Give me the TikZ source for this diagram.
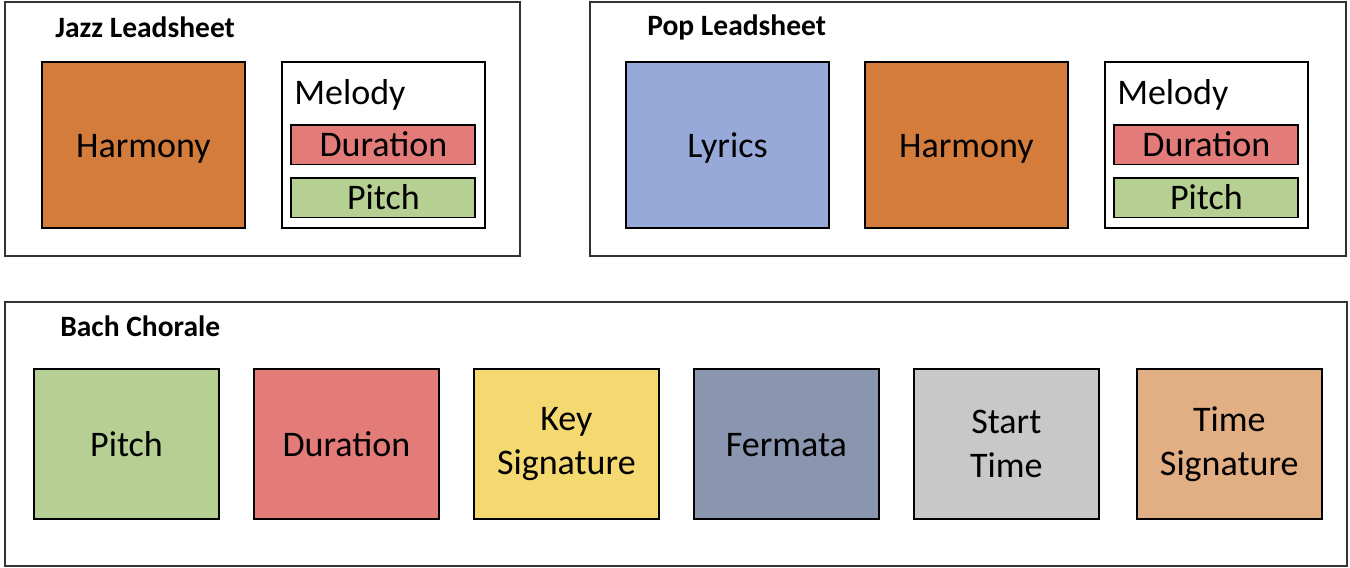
\documentclass[tikz,border=0pt]{standalone}
\usepackage{fontspec}
\setmainfont{Carlito}
\usetikzlibrary{positioning}
\definecolor{harmonyc}{HTML}{D47C3B}
\definecolor{lyricsc}{HTML}{96A9D8}
\definecolor{durationc}{HTML}{E37C78}
\definecolor{pitchc}{HTML}{B5D092}
\definecolor{keysigc}{HTML}{F4D870}
\definecolor{fermatac}{HTML}{8A96AF}
\definecolor{startc}{HTML}{C8C8C8}
\definecolor{timesigc}{HTML}{E2AE83}
\def\boxstrut{\rule{0pt}{0.86em}\rule[-0.18em]{0pt}{0pt}}
\def\topstrut{\rule{0pt}{1.0em}}
\tikzset{
  frame/.style={draw=black!80, line width=0.9pt, rectangle, inner sep=0pt, outer sep=0pt},
  heading/.style={font=\bfseries\fontsize{16.8}{20}\selectfont, inner sep=0pt, anchor=west},
  txt/.style={font=\fontsize{20.5}{25}\selectfont, inner sep=0pt},
  part/.style={draw=black, line width=1.1pt, rectangle, align=center, inner sep=0pt, outer sep=0pt,
    font=\fontsize{20.5}{25}\selectfont},
  oneline/.style={execute at begin node=\boxstrut},
  twoline/.style={execute at begin node=\topstrut},
  bigpart/.style={part, oneline, minimum width=4.06cm, minimum height=3.32cm},
  bachpart/.style={part, minimum width=3.7cm, minimum height=3cm},
  subpart/.style={part, oneline, minimum width=3.68cm, minimum height=0.79cm}
}
\begin{document}
\begin{tikzpicture}[x=0.02cm, y=-0.02cm]
  \useasboundingbox (0,0) rectangle (1350,568);

  % jazz leadsheet
  \node[frame, minimum width=10.3cm, minimum height=5.08cm, anchor=north west] (jazz) at (5,2) {};
  \node[heading] (jazztitle) at (55,27) {Jazz Leadsheet};
  \node[bigpart, fill=harmonyc, anchor=north west] (jharm) at (42,62) {Harmony};
  \node[bigpart, right=0.74cm of jharm] (jmel) {};
  \node[txt, anchor=west] (jmellab) at ([xshift=0.24cm, yshift=-0.66cm]jmel.north west) {Melody};
  \node[subpart, fill=durationc, below=1.26cm of jmel.north] (jdur) {Duration};
  \node[subpart, fill=pitchc, below=0.27cm of jdur] (jpitch) {Pitch};

  % pop leadsheet
  \node[frame, minimum width=15.12cm, minimum height=5.08cm, anchor=north west] (pop) at (590,2) {};
  \node[heading] (poptitle) at (647,27) {Pop Leadsheet};
  \node[bigpart, fill=lyricsc, anchor=north west] (plyr) at (626,62) {Lyrics};
  \node[bigpart, fill=harmonyc, right=0.72cm of plyr] (pharm) {Harmony};
  \node[bigpart, right=0.74cm of pharm] (pmel) {};
  \node[txt, anchor=west] (pmellab) at ([xshift=0.24cm, yshift=-0.66cm]pmel.north west) {Melody};
  \node[subpart, fill=durationc, below=1.26cm of pmel.north] (pdur) {Duration};
  \node[subpart, fill=pitchc, below=0.27cm of pdur] (ppitch) {Pitch};

  % bach chorale
  \node[frame, minimum width=26.84cm, minimum height=5.28cm, anchor=north west] (bach) at (5,302) {};
  \node[heading] (bachtitle) at (60,326) {Bach Chorale};
  \node[bachpart, oneline, fill=pitchc, anchor=north west] (bpitch) at (34,369) {Pitch};
  \node[bachpart, oneline, fill=durationc, right=0.7cm of bpitch] (bdur) {Duration};
  \node[bachpart, twoline, fill=keysigc, right=0.7cm of bdur] (bkey) {Key\\Signature};
  \node[bachpart, oneline, fill=fermatac, right=0.7cm of bkey] (bferm) {Fermata};
  \node[bachpart, twoline, fill=startc, right=0.7cm of bferm] (bstart) {Start\\Time};
  \node[bachpart, twoline, fill=timesigc, right=0.76cm of bstart] (btime) {Time\\Signature};
\end{tikzpicture}
\end{document}
